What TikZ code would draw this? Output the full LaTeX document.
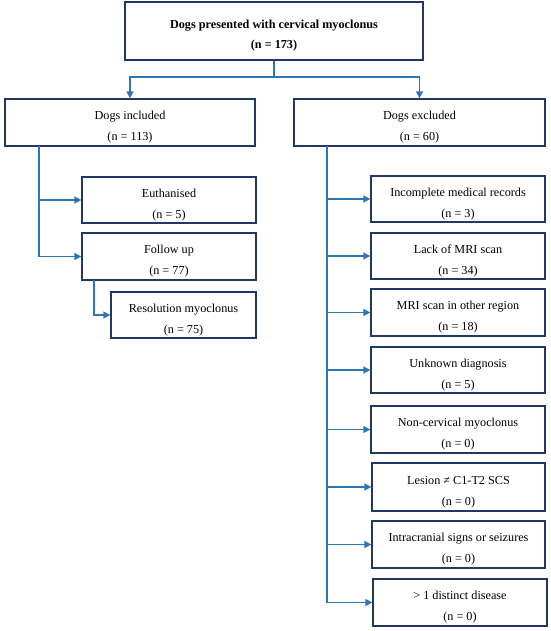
\documentclass[tikz,border=0pt]{standalone}
\usepackage{fontspec}
\setmainfont{Liberation Serif}
\usetikzlibrary{arrows.meta}
\definecolor{navy}{HTML}{1F3864}
\definecolor{arrowblue}{HTML}{2E75B6}
\newcommand\lowerstrut{\rule{0pt}{18pt}}
\begin{document}
\begin{tikzpicture}[x=1pt,y=-1pt,
  box/.style={draw=navy, line width=1.3pt, fill=white, align=center, inner sep=0pt,
    font=\fontsize{12.2}{21}\selectfont},
  link/.style={draw=arrowblue, line width=1.5pt},
  arr/.style={link, -{Triangle[length=7pt,width=7pt]}}]
\useasboundingbox (0,0) rectangle (550,631);
% top
\node[box, minimum width=298pt, minimum height=58pt, font=\bfseries\fontsize{12.2}{20}\selectfont] (top) at (274,31)
  {\lowerstrut Dogs presented with cervical myoclonus\\(n = 173)};
\node[box, minimum width=250pt, minimum height=47pt] (inc) at (130,122.5) {\lowerstrut Dogs included\\(n = 113)};
\node[box, minimum width=251pt, minimum height=47pt] (exc) at (419.5,122.5) {\lowerstrut Dogs excluded\\(n = 60)};
% left branch
\node[box, minimum width=174pt, minimum height=46pt] (euth) at (169,200) {\lowerstrut Euthanised\\(n = 5)};
\node[box, minimum width=174pt, minimum height=47pt] (fol) at (169,256.5) {\lowerstrut Follow up\\(n = 77)};
\node[box, minimum width=145pt, minimum height=46pt] (res) at (183.5,315) {\lowerstrut Resolution myoclonus\\(n = 75)};
% right branch
\node[box, minimum width=174pt, minimum height=46pt] (r1) at (458,199) {\lowerstrut Incomplete medical records\\(n = 3)};
\node[box, minimum width=174pt, minimum height=46pt] (r2) at (458,256) {\lowerstrut Lack of MRI scan\\(n = 34)};
\node[box, minimum width=174pt, minimum height=47pt] (r3) at (458,312.5) {\lowerstrut MRI scan in other region\\(n = 18)};
\node[box, minimum width=174pt, minimum height=46pt] (r4) at (458,370) {\lowerstrut Unknown diagnosis\\(n = 5)};
\node[box, minimum width=174pt, minimum height=47pt] (r5) at (458,429.5) {\lowerstrut Non-cervical myoclonus\\(n = 0)};
\node[box, minimum width=173pt, minimum height=48pt] (r6) at (458.5,487) {\lowerstrut Lesion ≠ C1-T2 SCS\\(n = 0)};
\node[box, minimum width=173pt, minimum height=47pt] (r7) at (458.5,544.5) {\lowerstrut Intracranial signs or seizures\\(n = 0)};
\node[box, minimum width=174pt, minimum height=47pt] (r8) at (460,602.5) {\lowerstrut > 1 distinct disease\\(n = 0)};
% connectors
\coordinate (split) at (274,77);
\draw[link] (top.south) -- (split);
\draw[arr] (split) -| (inc.north);
\draw[arr] (split) -| (exc.north);
\coordinate (il) at (39,146);
\draw[arr] (il) |- (euth.west);
\draw[arr] (il) |- (fol.west);
\coordinate (fl) at (94,280);
\draw[arr] (fl) |- (res.west);
\coordinate (el) at (327,146);
\foreach \n in {r1,r2,r3,r4,r5,r6,r7,r8}{
  \draw[arr] (el) |- (\n.west);
}
\end{tikzpicture}
\end{document}
